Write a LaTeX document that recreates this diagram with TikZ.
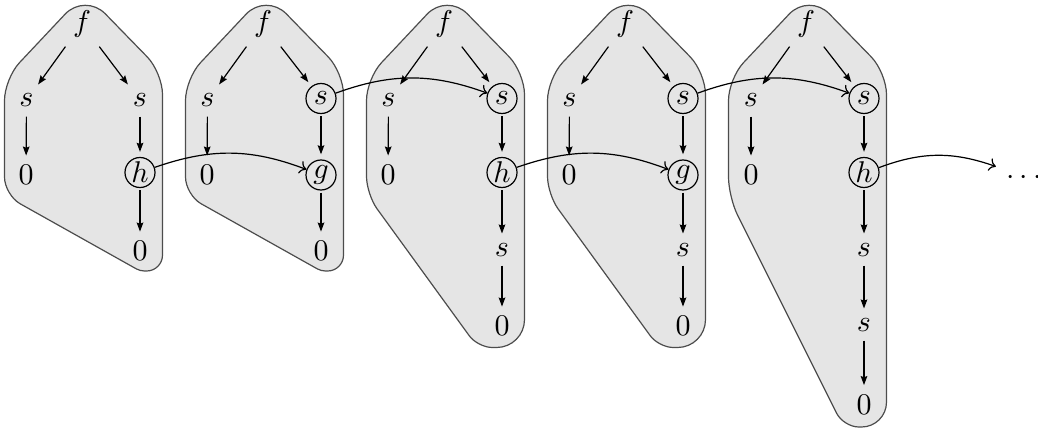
\documentclass[tikz,border=0pt]{standalone}
\usetikzlibrary{arrows.meta,calc}
\newcommand\crn[4]{-- ($#2!#4!#1$) .. controls ($#2!0.4477*#4!#1$) and ($#2!0.4477*#4!#3$) .. ($#2!#4!#3$)}
\newcommand\blobtop{\crn{(162.5,300)}{(162.5,72.6)}{(85,-7)}{7.3pt} \crn{(162.5,72.6)}{(85,-7)}{(4.5,78.6)}{9.7pt} \crn{(85,-7)}{(4.5,78.6)}{(4.5,195)}{7.3pt} -- cycle}
\tikzset{
  v/.style={inner xsep=1ex, inner ysep=3pt, anchor=base},
  cv/.style={circle, draw, minimum size=10pt, inner sep=0pt},
  blob/.style={fill=black!10, draw=black!70, line width=0.4pt},
  tr/.style={-{Stealth[length=3pt,width=2.2pt,inset=0.4pt]}},
  cr/.style={-{To[length=2.2pt,width=4.4pt]}, bend left=20},
  into/.style={shorten >=1.7pt},
  outof/.style={shorten <=0.7pt},
}
\begin{document}
\begin{tikzpicture}[x=0.3333pt, y=-0.3333pt]
\useasboundingbox (0,0) rectangle (1038,429);
% ---------- blobs ----------
\foreach \o in {0,181}{
  \begin{scope}[shift={(\o,0)}]
  \path[blob] (4.5,140) \crn{(4.5,140)}{(4.5,195)}{(140.1,271)}{6pt}
    \crn{(4.5,195)}{(140.1,271)}{(162.5,271)}{1.4pt}
    \crn{(140.1,271)}{(162.5,271)}{(162.5,72.6)}{5.3pt} \blobtop;
  \end{scope}
}
\foreach \o in {362,543}{
  \begin{scope}[shift={(\o,0)}]
  \path[blob] (4.5,140) \crn{(4.5,140)}{(4.5,194.3)}{(115.8,347.5)}{6pt}
    \crn{(4.5,194.3)}{(115.8,347.5)}{(162.5,347.5)}{4.8pt}
    \crn{(115.8,347.5)}{(162.5,347.5)}{(162.5,72.6)}{9.3pt} \blobtop;
  \end{scope}
}
\begin{scope}[shift={(724,0)}]
  \path[blob] (4.5,140) \crn{(4.5,140)}{(4.5,197)}{(119.5,427)}{6.7pt}
    \crn{(4.5,197)}{(119.5,427)}{(162.5,427)}{5.1pt}
    \crn{(119.5,427)}{(162.5,427)}{(162.5,72.6)}{8.3pt} \blobtop;
\end{scope}
% ---------- tree 1 ----------
\begin{scope}[shift={(0,0)}]
  \node[v] (f1) at (82,31.2) {$f$};
  \node[v] (a1) at (26.5,107) {$s$};
  \node[v] (b1) at (140,107) {$s$};
  \node[v] (c1) at (26,184.5) {$0$};
  \node[cv] (d1) at (140,172.5) {$h$};
  \node[v] (e1) at (140,260.5) {$0$};
\end{scope}
\draw[tr] (f1) -- (a1);
\draw[tr] (f1) -- (b1);
\draw[tr] (a1) -- (c1);
\draw[tr,into] (b1) -- (d1);
\draw[tr,outof] (d1) -- (e1);
% ---------- tree 2 ----------
\begin{scope}[shift={(181,0)}]
  \node[v] (f2) at (82,31.2) {$f$};
  \node[v] (a2) at (26.5,107) {$s$};
  \node[cv] (b2) at (140,98.5) {$s$};
  \node[v] (c2) at (26,184.5) {$0$};
  \node[cv] (d2) at (140,175) {$g$};
  \node[v] (e2) at (140,260.5) {$0$};
\end{scope}
\draw[tr] (f2) -- (a2);
\draw[tr,into] (f2) -- (b2);
\draw[tr] (a2) -- (c2);
\draw[tr,into,outof] (b2) -- (d2);
\draw[tr,outof] (d2) -- (e2);
% ---------- tree 3 ----------
\begin{scope}[shift={(362,0)}]
  \node[v] (f3) at (82,31.2) {$f$};
  \node[v] (a3) at (26.5,107) {$s$};
  \node[cv] (b3) at (140,98.5) {$s$};
  \node[v] (c3) at (26,184.5) {$0$};
  \node[cv] (d3) at (140,172.5) {$h$};
  \node[v] (e3) at (140,256) {$s$};
  \node[v] (g3) at (140,335.5) {$0$};
\end{scope}
\draw[tr] (f3) -- (a3);
\draw[tr,into] (f3) -- (b3);
\draw[tr] (a3) -- (c3);
\draw[tr,into,outof] (b3) -- (d3);
\draw[tr,outof] (d3) -- (e3);
\draw[tr] (e3) -- (g3);
% ---------- tree 4 ----------
\begin{scope}[shift={(543,0)}]
  \node[v] (f4) at (82,31.2) {$f$};
  \node[v] (a4) at (26.5,107) {$s$};
  \node[cv] (b4) at (140,98.5) {$s$};
  \node[v] (c4) at (26,184.5) {$0$};
  \node[cv] (d4) at (140,175) {$g$};
  \node[v] (e4) at (140,256) {$s$};
  \node[v] (g4) at (140,335.5) {$0$};
\end{scope}
\draw[tr] (f4) -- (a4);
\draw[tr,into] (f4) -- (b4);
\draw[tr] (a4) -- (c4);
\draw[tr,into,outof] (b4) -- (d4);
\draw[tr,outof] (d4) -- (e4);
\draw[tr] (e4) -- (g4);
% ---------- tree 5 ----------
\begin{scope}[shift={(724,0)}]
  \node[v] (f5) at (82,31.2) {$f$};
  \node[v] (a5) at (27,107) {$s$};
  \node[cv] (b5) at (140,98.5) {$s$};
  \node[v] (c5) at (27,184.5) {$0$};
  \node[cv] (d5) at (140,172.5) {$h$};
  \node[v] (e5) at (140,256) {$s$};
  \node[v] (g5) at (140,331) {$s$};
  \node[v] (h5) at (140,414) {$0$};
\end{scope}
\draw[tr] (f5) -- (a5);
\draw[tr,into] (f5) -- (b5);
\draw[tr] (a5) -- (c5);
\draw[tr,into,outof] (b5) -- (d5);
\draw[tr,outof] (d5) -- (e5);
\draw[tr] (e5) -- (g5);
\draw[tr] (g5) -- (h5);
\node[anchor=base] (dots) at (1024,184.5) {$\cdots$};
% ---------- curved connectors ----------
\draw[cr] (d1) to (d2);
\draw[cr] (b2) to (b3);
\draw[cr] (d3) to (d4);
\draw[cr] (b4) to (b5);
\draw[cr] (d5) to (dots);
\end{tikzpicture}
\end{document}
